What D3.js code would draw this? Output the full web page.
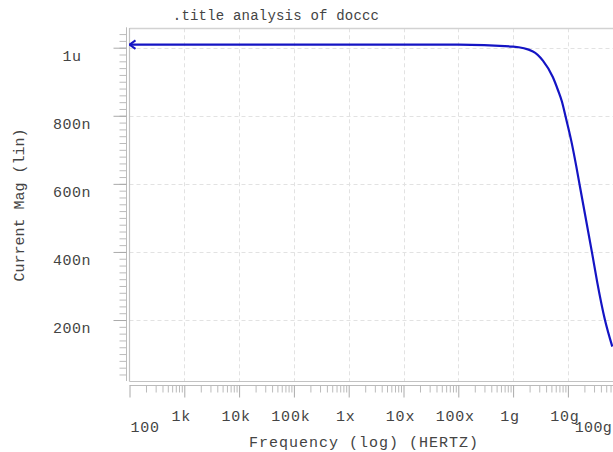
<!DOCTYPE html>
<html>
<head>
<meta charset="utf-8">
<script src="https://cdn.jsdelivr.net/npm/d3@7"></script>
<style>
  html, body { margin: 0; padding: 0; background: #fff; overflow: hidden; }
  svg { display: block; }
  text { font-family: "Liberation Mono", "DejaVu Sans Mono", monospace; fill: #444; }
</style>
</head>
<body>
<svg id="chart" width="613" height="452"></svg>
<script>
// ---- data ----
const titleText = ".title analysis of doccc";
const xAxisTitle = "Frequency (log) (HERTZ)";
const yAxisTitle = "Current Mag (lin)";
const freqs = [1e2, 1e3, 1e4, 1e5, 1e6, 1e7, 1e8, 1e9, 2.3e9, 3.5e9, 5.3e9, 6.6e9, 7.8e9, 9e9, 1.15e10, 1.42e10, 1.68e10, 2.79e10, 3.44e10, 4.7e10, 6.46e10];
const currentMag = [1.009e-6, 1.009e-6, 1.009e-6, 1.009e-6, 1.009e-6, 1.009e-6, 1.009e-6, 1.003e-6, 0.989e-6, 0.962e-6, 0.914e-6, 0.875e-6, 0.841e-6, 0.800e-6, 0.727e-6, 0.652e-6, 0.587e-6, 0.393e-6, 0.310e-6, 0.203e-6, 0.122e-6];
const xTickValues = [1e2, 1e3, 1e4, 1e5, 1e6, 1e7, 1e8, 1e9, 1e10, 1e11];
const xTickLabels = ["100", "1k", "10k", "100k", "1x", "10x", "100x", "1g", "10g", "100g"];
const yTickValues = [200e-9, 400e-9, 600e-9, 800e-9, 1e-6];
const yTickLabels = ["200n", "400n", "600n", "800n", "1u"];

// ---- layout ----
const svg = d3.select("#chart");
const plotLeft = 129.5, plotTop = 28.3, plotBottom = 381, plotRight = 640;
const x = d3.scaleLog().domain([1e2, 1e11]).range([129.5, 129.5 + 9 * 54.8]);
const y = d3.scaleLinear().domain([0, 1e-6]).range([388.1, 47.7]);
const yMin = y.invert(plotBottom), yMax = y.invert(plotTop);

// gridlines
const grid = svg.append("g").attr("stroke", "#e2e2e2").attr("stroke-width", 1).attr("stroke-dasharray", "4,3");
grid.selectAll("line.v").data(xTickValues.slice(1)).enter().append("line")
  .attr("x1", d => Math.round(x(d)) + 0.5).attr("x2", d => Math.round(x(d)) + 0.5)
  .attr("y1", plotTop).attr("y2", plotBottom);
grid.selectAll("line.h").data(yTickValues).enter().append("line")
  .attr("x1", plotLeft).attr("x2", plotRight)
  .attr("y1", d => Math.round(y(d)) + 0.5).attr("y2", d => Math.round(y(d)) + 0.5);

// frame
svg.append("line").attr("x1", plotLeft).attr("x2", plotRight).attr("y1", 28.5).attr("y2", 28.5)
  .attr("stroke", "#d2d2d2").attr("stroke-width", 1.5);
svg.append("line").attr("x1", plotLeft).attr("x2", plotLeft).attr("y1", 28).attr("y2", plotBottom + 0.5)
  .attr("stroke", "#c2c2c2").attr("stroke-width", 1.2);
svg.append("line").attr("x1", plotLeft).attr("x2", plotRight).attr("y1", plotBottom + 0.5).attr("y2", plotBottom + 0.5)
  .attr("stroke", "#c2c2c2").attr("stroke-width", 1.2);

// y axis (ticks to the left)
const yMinor = d3.range(1, 54).map(i => i * 20e-9).filter(v => v >= yMin - 1e-12 && v <= yMax);
const yAxisG = svg.append("g").attr("transform", "translate(126.5,0)");
yAxisG.call(d3.axisLeft(y).tickValues(yMinor).tickSize(7).tickFormat(""));
yAxisG.select(".domain").attr("d", `M0,${y(yMax) - 1}V${plotBottom}`);
yAxisG.selectAll("line, path").attr("stroke", "#bbbbbb");
const yMajG = svg.append("g").attr("transform", "translate(126.5,0)");
yMajG.call(d3.axisLeft(y).tickValues(yTickValues).tickSize(13).tickFormat(""));
yMajG.select(".domain").remove();
yMajG.selectAll("line").attr("stroke", "#aaaaaa");
svg.selectAll("text.ylab").data(yTickValues).enter().append("text")
  .attr("class", "ylab")
  .attr("x", 72).attr("y", d => y(d) + 13)
  .attr("text-anchor", "middle")
  .attr("font-size", 15)
  .attr("letter-spacing", 0.5)
  .text((d, i) => yTickLabels[i]);

// x axis (ticks downward)
const xMinor = [];
for (let e = 2; e < 11; e++) for (let m = 2; m <= 9; m++) xMinor.push(m * Math.pow(10, e));
const xAxisG = svg.append("g").attr("transform", "translate(0,385.5)");
xAxisG.call(d3.axisBottom(x).tickValues(xMinor).tickSize(7).tickFormat(""));
xAxisG.select(".domain").attr("d", `M${plotLeft},0H${plotRight}`);
xAxisG.selectAll("line, path").attr("stroke", "#bbbbbb");
const xMajG = svg.append("g").attr("transform", "translate(0,385.5)");
xMajG.call(d3.axisBottom(x).tickValues(xTickValues).tickSize(12).tickFormat(""));
xMajG.select(".domain").remove();
xMajG.selectAll("line").attr("stroke", "#aaaaaa");

svg.selectAll("text.xlab").data(xTickValues).enter().append("text")
  .attr("class", "xlab")
  .attr("x", (d, i) => i === 0 ? x(d) + 1 : (i === xTickValues.length - 1 ? 612 : x(d) - 3))
  .attr("y", (d, i) => (i === 0 || i === xTickValues.length - 1) ? 431.5 : 420.5)
  .attr("text-anchor", (d, i) => i === 0 ? "start" : (i === xTickValues.length - 1 ? "end" : "middle"))
  .attr("font-size", 15)
  .attr("letter-spacing", (d, i) => i === xTickValues.length - 1 ? 0.3 : 0.8)
  .text((d, i) => xTickLabels[i]);

// titles
svg.append("text").attr("x", 276).attr("y", 20).attr("text-anchor", "middle")
  .attr("font-size", 14).attr("letter-spacing", 0.2).text(titleText);
svg.append("text").attr("x", 364).attr("y", 446.5).attr("text-anchor", "middle")
  .attr("font-size", 15).attr("letter-spacing", 1).text(xAxisTitle);
svg.append("text").attr("transform", "translate(23.5,205) rotate(-90)").attr("text-anchor", "middle")
  .attr("font-size", 15).text(yAxisTitle);

// curve
const defs = svg.append("defs");
defs.append("marker").attr("id", "arrow").attr("markerUnits", "userSpaceOnUse")
  .attr("viewBox", "-1 -6 10 12").attr("refX", 0).attr("refY", 0)
  .attr("markerWidth", 10).attr("markerHeight", 12).attr("orient", "auto")
  .append("path").attr("d", "M6,-4.2L0,0L6,4.2").attr("fill", "none")
  .attr("stroke", "#1414c4").attr("stroke-width", 2);

const data = freqs.map((f, i) => ({ f, v: currentMag[i] }));
const line = d3.line().x(d => x(d.f)).y(d => y(d.v)).curve(d3.curveMonotoneX);
svg.append("path").datum(data)
  .attr("d", line)
  .attr("fill", "none")
  .attr("stroke", "#1414c4")
  .attr("stroke-width", 2.2)
  .attr("marker-start", "url(#arrow)");
</script>
</body>
</html>
